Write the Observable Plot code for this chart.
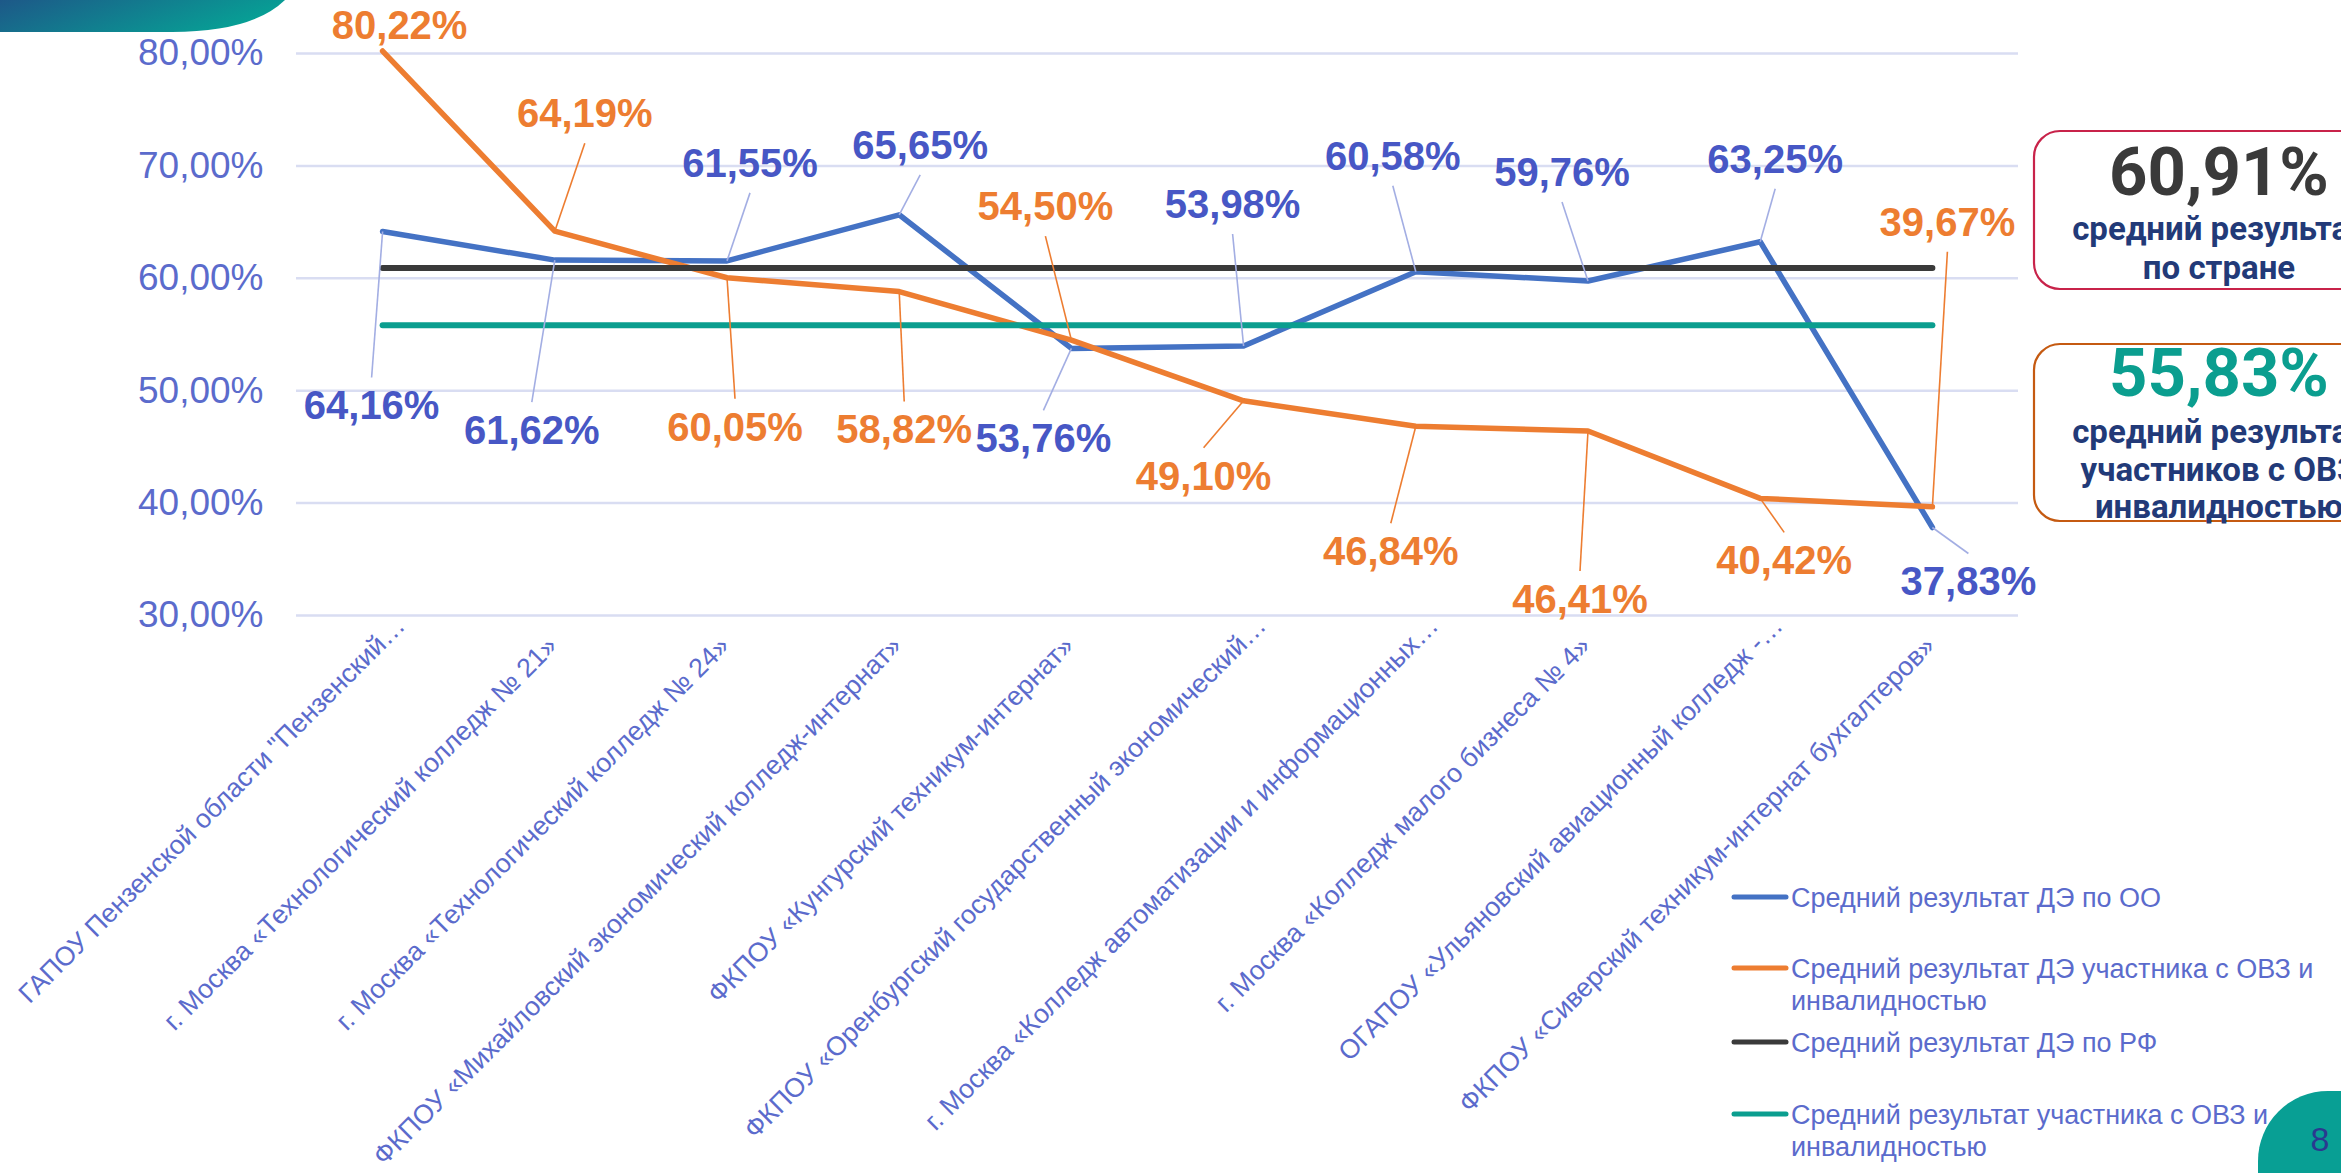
<!DOCTYPE html>
<html><head><meta charset="utf-8">
<script src="https://cdn.jsdelivr.net/npm/d3@7"></script>
<script src="https://cdn.jsdelivr.net/npm/@observablehq/plot@0.6"></script>
<style>
html,body{margin:0;padding:0;background:#fff;}
#wrap{position:relative;width:2341px;height:1173px;overflow:hidden;background:#fff;}
#chart{position:absolute;left:0;top:0;}
#overlay{position:absolute;left:0;top:0;}
</style></head>
<body><div id="wrap"><div id="chart"></div><svg id="overlay" width="2341" height="1173"></svg></div>
<script>
// ---------- data ----------
const categories = [
  "ГАПОУ Пензенской области \"Пензенский…",
  "г. Москва «Технологический колледж № 21»",
  "г. Москва «Технологический колледж № 24»",
  "ФКПОУ «Михайловский экономический колледж-интернат»",
  "ФКПОУ «Кунгурский техникум-интернат»",
  "ФКПОУ «Оренбургский государственный экономический…",
  "г. Москва «Колледж автоматизации и информационных…",
  "г. Москва «Колледж малого бизнеса № 4»",
  "ОГАПОУ «Ульяновский авиационный колледж -…",
  "ФКПОУ «Сиверский техникум-интернат бухгалтеров»"
];
const ooValues  = [64.16, 61.62, 61.55, 65.65, 53.76, 53.98, 60.58, 59.76, 63.25, 37.83];
const ovzValues = [80.22, 64.19, 60.05, 58.82, 54.50, 49.10, 46.84, 46.41, 40.42, 39.67];
const rfAverage = 60.91;
const ovzAverage = 55.83;
const yTicks = [30, 40, 50, 60, 70, 80];
const seriesNames = [
  "Средний результат ДЭ по ОО",
  "Средний результат ДЭ участника с ОВЗ и инвалидностью",
  "Средний результат ДЭ по РФ",
  "Средний результат участника с ОВЗ и инвалидностью"
];
const rfCaption = ["средний результат", "по стране"];
const ovzCaption = ["средний результат", "участников с ОВЗ", "инвалидностью"];
const pageNumber = "8";

// ---------- label placement (pixel offsets of each data label from its point) ----------
const ooLabelOffsets  = [[-11,175],[-23,171],[23,-97],[21,-69],[-28,91],[-11,-141],[-23,-115],[-26,-108],[15,-82],[36,55]];
const ovzLabelOffsets = [[17,-25],[30,-117],[8,150],[5,139],[-26,-133],[-40,76],[-25,126],[-8,169],[24,63],[15,-284]];

// ---------- layout ----------
const W = 2341, H = 1173;
const mL = 296, mR = 323, mT = 53, mB = 558;
const xDomain = [-0.5, categories.length - 0.5];
const yDomain = [30, 80];
const pxPerX = (W - mL - mR) / (xDomain[1] - xDomain[0]);
const pxPerY = (H - mT - mB) / (yDomain[1] - yDomain[0]);

const COL = {
  blue: "#4472c4", blueText: "#4757c5", orange: "#ed7d31", black: "#3a3a3a",
  teal: "#0b9e8f", axisText: "#5b6bcc", grid: "#d9ddf2", blueLeader: "#a3aee3",
  navy: "#223a78"
};
const FONT = "'Liberation Sans', Arial, sans-serif";

const fmt = v => v.toFixed(2).replace(".", ",") + "%";

function rowsOf(values) { return values.map((v, i) => ({i, v})); }
function labelsOf(values, offsets) {
  return values.map((v, i) => {
    const [dx, dy] = offsets[i];
    const lx = i + dx / pxPerX;
    const ly = v - dy / pxPerY;
    const ey = ly + Math.sign(dy) * 29 / pxPerY;
    return {i, v, lx, ly, ey, text: fmt(v), leader: Math.hypot(dx, dy) > 45};
  });
}
const ooRows = rowsOf(ooValues);
const ovzRows = rowsOf(ovzValues);
const rfRows = categories.map((c, i) => ({i, v: rfAverage}));
const ovzAvgRows = categories.map((c, i) => ({i, v: ovzAverage}));
const ooLabels = labelsOf(ooValues, ooLabelOffsets);
const ovzLabels = labelsOf(ovzValues, ovzLabelOffsets);
const catRows = categories.map((c, i) => ({i, c, truncated: c.endsWith("…")}));

const xLabelStyle = {x: "i", text: "c", frameAnchor: "bottom", rotate: -45, textAnchor: "end", fontSize: 26.6, fill: COL.axisText};

const chart = Plot.plot({
  width: W, height: H,
  marginLeft: mL, marginRight: mR, marginTop: mT, marginBottom: mB,
  style: {fontFamily: FONT, background: "transparent", overflow: "visible"},
  x: {type: "linear", domain: xDomain, axis: null},
  y: {domain: yDomain},
  marks: [
    Plot.gridY(yTicks, {stroke: COL.grid, strokeOpacity: 1, strokeWidth: 2.5}),
    Plot.axisY(yTicks, {tickSize: 0, tickPadding: 33, fontSize: 37, fill: COL.axisText, tickFormat: d => d.toFixed(2).replace(".", ",") + "%", label: null}),
    Plot.text(catRows.filter(d => !d.truncated), {...xLabelStyle, dx: 4, dy: 32}),
    Plot.text(catRows.filter(d => d.truncated), {...xLabelStyle, dx: 24, dy: 12}),
    Plot.line(ooRows, {x: "i", y: "v", stroke: COL.blue, strokeWidth: 5.5, strokeLinejoin: "round", strokeLinecap: "round"}),
    Plot.line(ovzRows, {x: "i", y: "v", stroke: COL.orange, strokeWidth: 5.5, strokeLinejoin: "round", strokeLinecap: "round"}),
    Plot.line(rfRows, {x: "i", y: "v", stroke: COL.black, strokeWidth: 6, strokeLinecap: "round"}),
    Plot.line(ovzAvgRows, {x: "i", y: "v", stroke: COL.teal, strokeWidth: 6, strokeLinecap: "round"}),
    Plot.link(ooLabels.filter(d => d.leader), {x1: "i", y1: "v", x2: "lx", y2: "ey", stroke: COL.blueLeader, strokeWidth: 1.6}),
    Plot.link(ovzLabels.filter(d => d.leader), {x1: "i", y1: "v", x2: "lx", y2: "ey", stroke: COL.orange, strokeWidth: 1.6}),
    Plot.text(ooLabels, {x: "lx", y: "ly", text: "text", fill: COL.blueText, fontSize: 40, fontWeight: "bold"}),
    Plot.text(ovzLabels, {x: "lx", y: "ly", text: "text", fill: COL.orange, fontSize: 40, fontWeight: "bold"})
  ]
});
document.getElementById("chart").appendChild(chart);

// ---------- overlay: decorations, summary boxes, legend ----------
const ov = d3.select("#overlay");
const defs = ov.append("defs");
const grad = defs.append("linearGradient").attr("id", "tl").attr("x1", "0").attr("x2", "1").attr("y1", "0").attr("y2", "0.3");
grad.append("stop").attr("offset", "0").attr("stop-color", "#1d5888");
grad.append("stop").attr("offset", "1").attr("stop-color", "#07a095");
ov.append("path").attr("d", "M0,0 L285,0 Q252,32 172,32 L0,32 Z").attr("fill", "url(#tl)");

// summary boxes
function box(y, h, stroke, value, valueColor, valueBase, lines, firstBase, step) {
  ov.append("rect").attr("x", 2034).attr("y", y).attr("width", 370).attr("height", h).attr("rx", 26)
    .attr("fill", "#fff").attr("stroke", stroke).attr("stroke-width", 2.2);
  ov.append("text").attr("x", 2219).attr("y", valueBase).attr("text-anchor", "middle")
    .attr("font-family", "Roboto").attr("font-weight", 700).attr("font-size", 67).attr("fill", valueColor).text(value);
  lines.forEach((t, k) => {
    ov.append("text").attr("x", 2219).attr("y", firstBase + k * step).attr("text-anchor", "middle")
      .attr("font-family", "Roboto").attr("font-weight", 700).attr("font-size", 33).attr("fill", COL.navy).text(t);
  });
}
box(131, 158, "#c8234a", fmt(rfAverage), "#3a3a3a", 195, rfCaption, 240, 39);
box(344, 177, "#c55a11", fmt(ovzAverage), COL.teal, 396, ovzCaption, 443, 37.5);

// legend
const legendColors = [COL.blue, COL.orange, COL.black, COL.teal];
const legendLines = [[seriesNames[0]], ["Средний результат ДЭ участника с ОВЗ и", "инвалидностью"], [seriesNames[2]], ["Средний результат участника с ОВЗ и", "инвалидностью"]];
const legendY = [897, 968, 1042, 1114];
legendLines.forEach((lines, k) => {
  ov.append("line").attr("x1", 1734).attr("x2", 1786).attr("y1", legendY[k]).attr("y2", legendY[k])
    .attr("stroke", legendColors[k]).attr("stroke-width", 5).attr("stroke-linecap", "round");
  lines.forEach((t, j) => {
    ov.append("text").attr("x", 1791).attr("y", legendY[k] + 9.5 + j * 32.5)
      .attr("font-family", FONT).attr("font-size", 27).attr("fill", COL.axisText).text(t);
  });
});
// page badge, drawn over the legend end as in the reference
ov.append("rect").attr("x", 2258).attr("y", 1091).attr("width", 220).attr("height", 220).attr("rx", 70).attr("fill", "#089f94");
ov.append("text").attr("x", 2320).attr("y", 1151).attr("text-anchor", "middle")
  .attr("font-family", "'Liberation Sans Narrow', 'Liberation Sans', Arial").attr("font-size", 34).attr("fill", "#2a3990").text(pageNumber);
</script>
</body></html>
